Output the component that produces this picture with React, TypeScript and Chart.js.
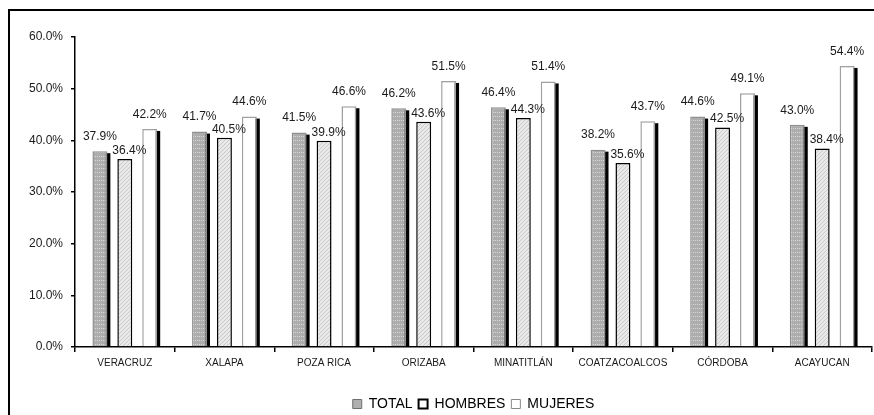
import React, { useEffect, useRef } from "react";
import { Chart, registerables } from "chart.js";

Chart.register(...registerables);

const categories = ["VERACRUZ", "XALAPA", "POZA RICA", "ORIZABA", "MINATITLÁN", "COATZACOALCOS", "CÓRDOBA", "ACAYUCAN"];
const seriesNames = ["TOTAL", "HOMBRES", "MUJERES"];
const totalValues = [37.9, 41.7, 41.5, 46.2, 46.4, 38.2, 44.6, 43.0];
const hombresValues = [36.4, 40.5, 39.9, 43.6, 44.3, 35.6, 42.5, 38.4];
const mujeresValues = [42.2, 44.6, 46.6, 51.5, 51.4, 43.7, 49.1, 54.4];
const yMin = 0;
const yMax = 60;
const yStep = 10;

const FONT = "'Liberation Sans', Arial, sans-serif";

function makePattern(size: number, bg: string, draw: (g: CanvasRenderingContext2D) => void) {
  const c = document.createElement("canvas");
  c.width = size;
  c.height = size;
  const g = c.getContext("2d")!;
  g.fillStyle = bg;
  g.fillRect(0, 0, size, size);
  draw(g);
  return g.createPattern(c, "repeat")!;
}

export default function App() {
  const ref = useRef<HTMLCanvasElement | null>(null);

  useEffect(() => {
    if (!ref.current) return;
    const totalPat = makePattern(4, "#adadad", (g) => {
      g.fillStyle = "#d8d8d8";
      g.fillRect(1, 1, 1, 1);
      g.fillRect(3, 1, 1, 1);
    });
    const hombresPat = makePattern(4, "#e9e9e9", (g) => {
      g.fillStyle = "#c9c9c9";
      g.fillRect(0, 3, 1, 1);
      g.fillRect(1, 2, 1, 1);
      g.fillRect(2, 1, 1, 1);
      g.fillRect(3, 0, 1, 1);
    });

    const shadowPlugin = {
      id: "barShadow",
      beforeDatasetsDraw(chart: any) {
        const ctx = chart.ctx;
        ctx.save();
        ctx.fillStyle = "#000";
        [0, 2].forEach((i) => {
          const meta = chart.getDatasetMeta(i);
          meta.data.forEach((el: any) => {
            const { x, y, base, width } = el.getProps(["x", "y", "base", "width"], true);
            ctx.fillRect(x - width / 2 + 3, y + 2, width, base - y - 2);
          });
        });
        ctx.restore();
      },
    };

    const labelPlugin = {
      id: "valueLabels",
      afterDatasetsDraw(chart: any) {
        const ctx = chart.ctx;
        const dx = [0, 4.5, 0];
        const dy = [14.5, 8.5, 14.5];
        ctx.save();
        ctx.font = `12px ${FONT}`;
        ctx.fillStyle = "#1a1a1a";
        ctx.textAlign = "center";
        ctx.textBaseline = "middle";
        chart.data.datasets.forEach((ds: any, i: number) => {
          const meta = chart.getDatasetMeta(i);
          meta.data.forEach((el: any, j: number) => {
            const v = ds.data[j] as number;
            ctx.fillText(v.toFixed(1) + "%", el.x + dx[i], el.y - dy[i]);
          });
        });
        ctx.restore();
      },
    };

    const chart = new Chart(ref.current, {
      type: "bar",
      data: {
        labels: categories,
        datasets: [
          {
            label: seriesNames[0],
            data: totalValues,
            backgroundColor: totalPat,
            borderColor: "#8f8f8f",
            borderWidth: 1.5,
            categoryPercentage: 0.75,
            barPercentage: 0.6,
          },
          {
            label: seriesNames[1],
            data: hombresValues,
            backgroundColor: hombresPat,
            borderColor: "#000",
            borderWidth: 1.5,
            categoryPercentage: 0.75,
            barPercentage: 0.6,
          },
          {
            label: seriesNames[2],
            data: mujeresValues,
            backgroundColor: "#ffffff",
            borderColor: "#a0a0a0",
            borderWidth: 1.5,
            categoryPercentage: 0.75,
            barPercentage: 0.6,
          },
        ],
      },
      options: {
        animation: false,
        responsive: false,
        maintainAspectRatio: false,
        layout: { padding: { left: 0, right: 2, top: 26, bottom: 0 } },
        plugins: {
          tooltip: { enabled: false },
          legend: {
            position: "bottom",
            fullSize: false,
            labels: {
              font: { family: FONT, size: 14 },
              color: "#111",
              boxWidth: 9,
              boxHeight: 9,
              padding: 6,
              generateLabels: () => [
                { text: seriesNames[0], fillStyle: "#b0b0b0", strokeStyle: "#707070", lineWidth: 1, datasetIndex: 0, hidden: false },
                { text: seriesNames[1], fillStyle: "#ffffff", strokeStyle: "#000", lineWidth: 2, datasetIndex: 1, hidden: false },
                { text: seriesNames[2], fillStyle: "#ffffff", strokeStyle: "#888", lineWidth: 1, datasetIndex: 2, hidden: false },
              ],
            },
          },
        },
        scales: {
          x: {
            grid: {
              display: true,
              drawOnChartArea: false,
              drawTicks: true,
              tickLength: 5,
              color: "#000",
              lineWidth: 1.5,
              offset: true,
            },
            border: { display: true, color: "#000", width: 1.5 },
            ticks: {
              font: { family: FONT, size: 10 },
              color: "#1a1a1a",
              padding: 5,
              maxRotation: 0,
              autoSkip: false,
            },
            afterFit: (scale: any) => {
              scale.height = 44;
            },
          },
          y: {
            min: yMin,
            max: yMax,
            grid: {
              display: true,
              drawOnChartArea: false,
              drawTicks: true,
              tickLength: 4,
              color: "#000",
              lineWidth: 1.5,
            },
            border: { display: true, color: "#000", width: 1.5 },
            ticks: {
              stepSize: yStep,
              font: { family: FONT, size: 12 },
              color: "#1a1a1a",
              padding: 8,
              callback: (v: any) => Number(v).toFixed(1) + "%",
            },
            afterFit: (scale: any) => {
              scale.width = 65;
            },
          },
        },
      },
      plugins: [shadowPlugin, labelPlugin],
    });
    return () => chart.destroy();
  }, []);

  return (
    <div
      style={{
        position: "fixed",
        left: 0,
        top: 0,
        width: 874,
        height: 415,
        overflow: "hidden",
        background: "#fff",
      }}
    >
      <div
        style={{
          position: "absolute",
          left: 8,
          top: 9,
          width: 900,
          height: 420,
          borderTop: "2px solid #000",
          borderLeft: "2px solid #000",
        }}
      />
      <canvas
        ref={ref}
        width={864}
        height={410}
        style={{ position: "absolute", left: 10, top: 11, width: 864, height: 410 }}
      />
    </div>
  );
}
